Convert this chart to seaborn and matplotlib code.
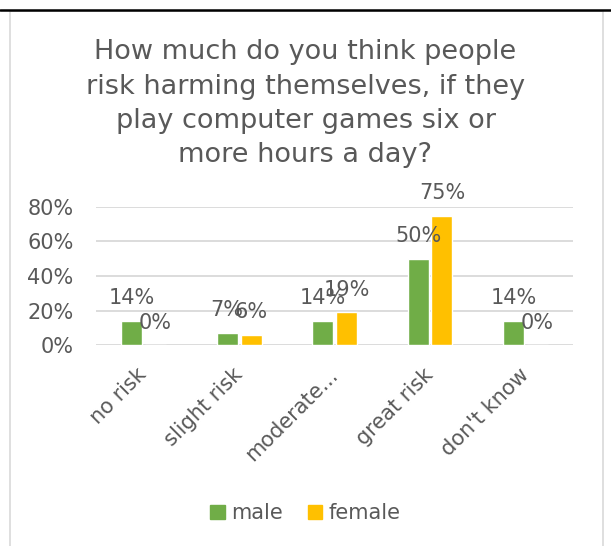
import pandas as pd
import seaborn as sns
import matplotlib.pyplot as plt
from matplotlib.patches import Rectangle
from matplotlib.lines import Line2D

# Data
categories = ["no risk", "slight risk", "moderate...", "great risk", "don't know"]
male = [0.14, 0.07, 0.14, 0.50, 0.14]
female = [0.00, 0.06, 0.19, 0.75, 0.00]
yticks = [0, 0.2, 0.4, 0.6, 0.8]

df = pd.DataFrame({
    "answer": categories * 2,
    "share": male + female,
    "gender": ["male"] * len(categories) + ["female"] * len(categories),
})

sns.set_theme(style="white")
plt.rcParams["font.family"] = ["DejaVu Sans"]
txt = "#595959"

fig = plt.figure(figsize=(6.11, 5.46), dpi=100)
ax = fig.add_axes([0.157, 0.368, 0.781, 0.253])

sns.barplot(
    data=df, x="answer", y="share", hue="gender",
    palette={"male": "#70AD47", "female": "#FFC000"}, saturation=1,
    width=0.5, gap=0.12, ax=ax, legend=False,
)

for cont in ax.containers:
    labels = [f"{v * 100:.0f}%" for v in cont.datavalues]
    ax.bar_label(cont, labels=labels, padding=9, fontsize=15, color=txt, clip_on=False)

ax.set_ylim(0, 0.8)
ax.set_yticks(yticks)
ax.set_yticklabels([f"{t * 100:.0f}%" for t in yticks], fontsize=15, color=txt)
ax.yaxis.grid(True, color="#d9d9d9", linewidth=1.3)
ax.set_axisbelow(True)
for s in ax.spines.values():
    s.set_visible(False)
ax.tick_params(axis="y", length=0, pad=16)
ax.tick_params(axis="x", length=0, pad=19)
ax.set_xlabel("")
ax.set_ylabel("")
ax.set_xticks(range(len(categories)))
ax.set_xticklabels(categories, rotation=45, ha="right", va="center",
                   rotation_mode="anchor", fontsize=15, color=txt)

fig.text(0.5, 0.81, "How much do you think people\nrisk harming themselves, if they\n"
         "play computer games six or\nmore hours a day?",
         ha="center", va="center", fontsize=19.5, color=txt, linespacing=1.42)

handles = [Rectangle((0, 0), 1, 1, color="#70AD47"), Rectangle((0, 0), 1, 1, color="#FFC000")]
fig.legend(handles, ["male", "female"], loc="center", bbox_to_anchor=(0.5, 0.06),
           ncol=2, frameon=False, fontsize=15, labelcolor=txt,
           handlelength=0.7, handleheight=0.7, handletextpad=0.3, columnspacing=1.2)

# chart border and the line above it
fig.add_artist(Rectangle((10 / 611, -0.01), 593 / 611, 1 - 11 / 546 + 0.01,
                         transform=fig.transFigure, fill=False, edgecolor="#d9d9d9", linewidth=1.2))
fig.add_artist(Line2D([0, 1], [1 - 10 / 546] * 2, transform=fig.transFigure,
                      color="black", linewidth=1.8))

plt.savefig("out.png", dpi=100)
